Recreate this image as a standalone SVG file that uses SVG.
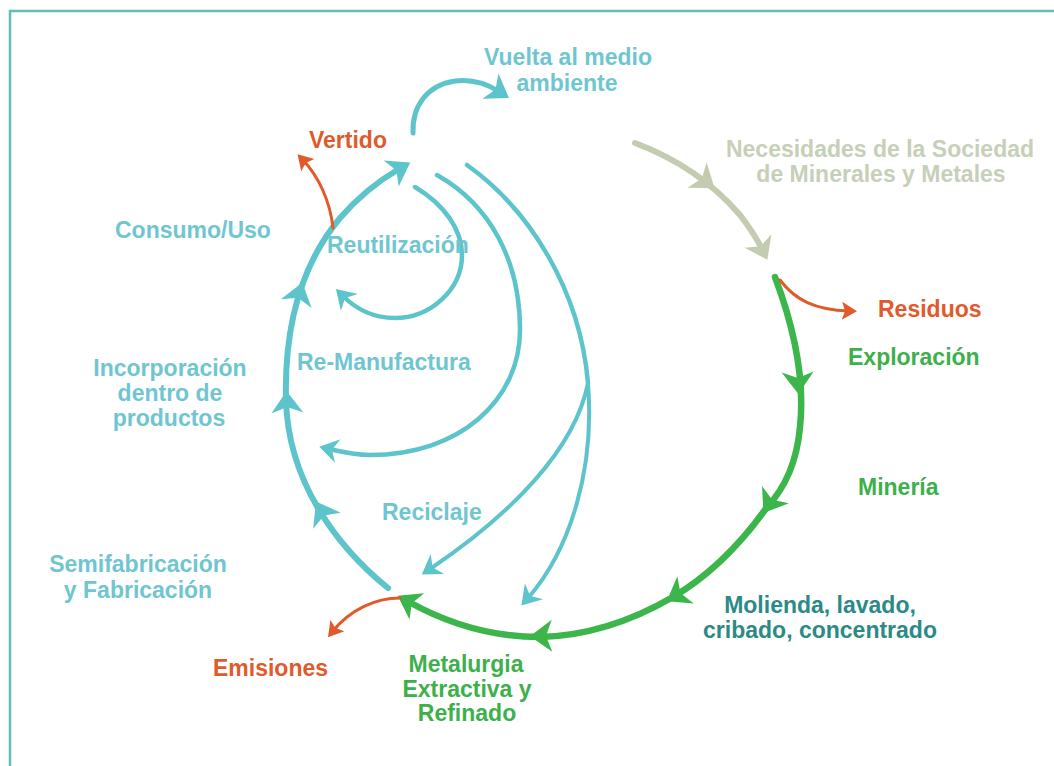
<svg xmlns="http://www.w3.org/2000/svg" xmlns:xlink="http://www.w3.org/1999/xlink" width="1054" height="766" viewBox="0 0 1054 766">
<style>
  text { font-family: "Liberation Sans", Arial, sans-serif; font-weight: bold; font-size: 23px; }
  .tl { fill: #6fc6cf; }
  .or { fill: #e05a2c; }
  .gr { fill: #3db04b; }
  .gy { fill: #c6cfb8; }
  .dt { fill: #2b8a86; }
  .c { text-anchor: middle; }
  .teal { fill: none; stroke: #5ec4cc; stroke-linecap: round; }
  .green { fill: none; stroke: #3cb54a; stroke-width: 6.5; stroke-linecap: round; }
  .orange { fill: none; stroke: #e05a2c; stroke-width: 3; stroke-linecap: round; }
  .grey { fill: none; stroke: #c3ccb1; stroke-width: 6; stroke-linecap: round; }
</style>
<defs>
  <path id="ah" d="M12,0 L-10,-16 L-4,0 L-10,16 Z"/>
  <marker id="mTeal" markerUnits="userSpaceOnUse" markerWidth="44" markerHeight="44" viewBox="-22 -22 44 44" refX="0" refY="0" orient="auto" overflow="visible">
    <path d="M13,0 L-9,-15 L-3,0 L-9,15 Z" fill="#5ec4cc"/>
  </marker>
  <marker id="mTealS" markerUnits="userSpaceOnUse" markerWidth="40" markerHeight="40" viewBox="-20 -20 40 40" refX="0" refY="0" orient="auto" overflow="visible">
    <path d="M10,0 L-9,-12 L-3,0 L-9,12 Z" fill="#5ec4cc"/>
  </marker>
  <marker id="mGreen" markerUnits="userSpaceOnUse" markerWidth="44" markerHeight="44" viewBox="-22 -22 44 44" refX="0" refY="0" orient="auto" overflow="visible">
    <path d="M13,0 L-9,-15 L-3,0 L-9,15 Z" fill="#3cb54a"/>
  </marker>
  <marker id="mGrey" markerUnits="userSpaceOnUse" markerWidth="44" markerHeight="44" viewBox="-22 -22 44 44" refX="0" refY="0" orient="auto" overflow="visible">
    <path d="M12,0 L-9,-15 L-3,0 L-9,15 Z" fill="#c3ccb1"/>
  </marker>
  <marker id="mOrange" markerUnits="userSpaceOnUse" markerWidth="30" markerHeight="30" viewBox="-15 -15 30 30" refX="0" refY="0" orient="auto" overflow="visible">
    <path d="M8,0 L-7,-9 L-4,0 L-7,9 Z" fill="#e05a2c"/>
  </marker>
</defs>

<rect width="1054" height="766" fill="#ffffff"/>
<g id="border" fill="none" stroke="#62bdb5" stroke-width="2.5">
  <path d="M10,766 L10,11 L1054,11"/>
</g>

<g id="connectors">
  <!-- main left teal loop -->
  <path class="teal" stroke-width="6" marker-end="url(#mTeal)" d="M388,588 C335,545 288,480 286,400 C284,320 305,260 340,218 C360,195 380,180 399,169"/>
  <use href="#ah" fill="#5ec4cc" transform="translate(322,512) rotate(-120)"/>
  <use href="#ah" fill="#5ec4cc" transform="translate(287,403) rotate(-92)"/>
  <use href="#ah" fill="#5ec4cc" transform="translate(299,294) rotate(-74)"/>
  <!-- vuelta al medio ambiente -->
  <path class="teal" stroke-width="5" marker-end="url(#mTeal)" d="M413,133 C412,105 428,85 455,81 C472,79 487,84 498,91"/>
  <!-- reutilizacion -->
  <path class="teal" stroke-width="4.5" marker-end="url(#mTealS)" d="M415,187 C445,205 462,230 462,255 C462,290 430,318 395,318 C372,318 355,308 343,296"/>
  <!-- re-manufactura -->
  <path class="teal" stroke-width="4.5" marker-end="url(#mTealS)" d="M437,175 C490,205 520,260 520,330 C520,400 460,455 370,455 C355,455 342,452 329,449"/>
  <!-- reciclaje -->
  <path class="teal" stroke-width="4.5" d="M467,165 C530,210 580,290 588,383"/>
  <path class="teal" stroke-width="4" marker-end="url(#mTealS)" d="M588,383 C575,450 510,515 430,569"/>
  <path class="teal" stroke-width="4" marker-end="url(#mTealS)" d="M588,383 C595,470 570,550 528,598"/>
  <!-- green production arc -->
  <path class="green" marker-end="url(#mGreen)" d="M775,277 C795,330 805,380 800,427 C797,460 785,488 767,507 C740,545 710,575 673,597 C630,622 585,636 540,637 C490,637 445,622 409,602"/>
  <use href="#ah" fill="#3cb54a" transform="translate(798,382) rotate(88)"/>
  <use href="#ah" fill="#3cb54a" transform="translate(770,503) rotate(123)"/>
  <use href="#ah" fill="#3cb54a" transform="translate(677,595) rotate(149)"/>
  <use href="#ah" fill="#3cb54a" transform="translate(542,636) rotate(179)"/>
  <!-- necesidades -->
  <path class="grey" marker-end="url(#mGrey)" d="M635,143 C675,158 710,180 740,215 C750,228 757,239 762,249"/>
  <use href="#ah" fill="#c3ccb1" transform="translate(705,181) rotate(37)"/>
  <!-- orange outputs -->
  <path class="orange" marker-end="url(#mOrange)" d="M780,280 C795,300 815,310 849,311"/>
  <path class="orange" marker-end="url(#mOrange)" d="M333,228 C330,200 318,176 303,160"/>
  <path class="orange" marker-end="url(#mOrange)" d="M400,598 C375,598 350,610 333,631"/>
</g>

<g id="n-vuelta"><text class="tl c" x="568" y="65">Vuelta al medio</text><text class="tl c" x="567" y="91">ambiente</text></g>
<g id="n-vertido"><text class="or" x="309" y="148">Vertido</text></g>
<g id="n-necesidades"><text class="gy c" x="880" y="157">Necesidades de la Sociedad</text><text class="gy c" x="881" y="182">de Minerales y Metales</text></g>
<g id="n-residuos"><text class="or" x="878" y="317">Residuos</text></g>
<g id="n-exploracion"><text class="gr" x="848" y="365">Exploración</text></g>
<g id="n-consumo"><text class="tl" x="115" y="238">Consumo/Uso</text></g>
<g id="n-reutilizacion"><text class="tl" x="327" y="253">Reutilización</text></g>
<g id="n-incorporacion"><text class="tl c" x="170" y="376">Incorporación</text><text class="tl c" x="170" y="401">dentro de</text><text class="tl c" x="169" y="426">productos</text></g>
<g id="n-remanufactura"><text class="tl" x="297" y="370">Re-Manufactura</text></g>
<g id="n-reciclaje"><text class="tl" x="382" y="520">Reciclaje</text></g>
<g id="n-semifabricacion"><text class="tl c" x="138" y="572">Semifabricación</text><text class="tl c" x="138" y="598">y Fabricación</text></g>
<g id="n-emisiones"><text class="or" x="213" y="676">Emisiones</text></g>
<g id="n-metalurgia"><text class="gr c" x="466" y="672">Metalurgia</text><text class="gr c" x="467" y="697">Extractiva y</text><text class="gr c" x="467" y="721">Refinado</text></g>
<g id="n-mineria"><text class="gr" x="858" y="495">Minería</text></g>
<g id="n-molienda"><text class="dt c" x="820" y="613">Molienda, lavado,</text><text class="dt c" x="820" y="638">cribado, concentrado</text></g>
</svg>
